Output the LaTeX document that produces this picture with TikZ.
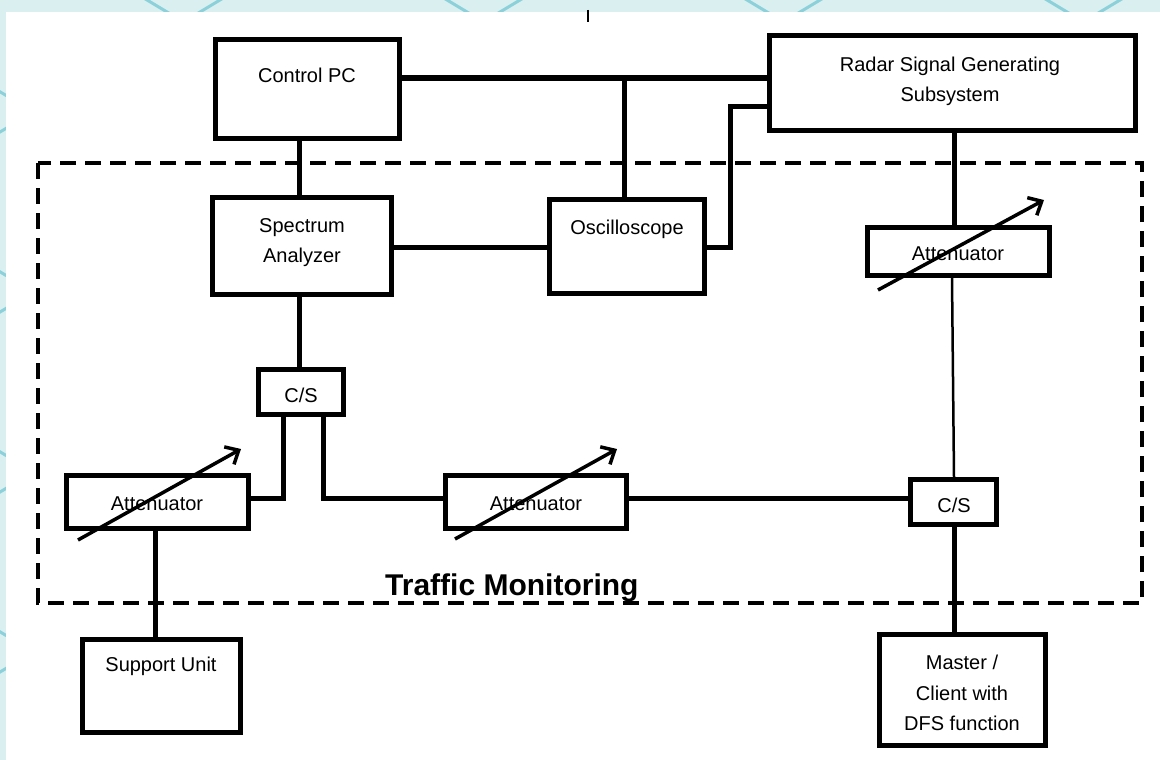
\documentclass[tikz,border=0pt]{standalone}
\usepackage{fontspec}
\setmainfont{Liberation Sans}
\usetikzlibrary{arrows.meta}
\definecolor{bgcyan}{HTML}{DAF0F0}
\definecolor{latt}{HTML}{8CD0DA}
\begin{document}
\begin{tikzpicture}[x=1pt,y=-1pt,
  box/.style={draw=black,line width=5pt,inner sep=0pt,fill=white},
  lbl/.style={font=\fontsize{20}{24}\selectfont,inner sep=0pt,anchor=base},
  conn/.style={draw=black,line width=5pt},
  thinconn/.style={draw=black,line width=2.5pt},
  varrow/.style={draw=black,line width=3.5pt,-{Straight Barb[length=11pt,width=20pt]}},
  frame/.style={draw=black,line width=3.5pt,dash pattern=on 16pt off 9pt}]
\useasboundingbox (0,0) rectangle (1160,760);
% background
\fill[bgcyan] (0,0) rectangle (1160,760);
\begin{scope}
  \clip (0,0) rectangle (1160,760);
  \foreach \a in {-1053,-753,-453,-153,147,447,747,1047,1347}{
    \draw[latt,line width=3pt] (\a-1300,-780) -- (\a+1300,780);}
  \foreach \b in {220,520,820,1120,1420,1720,2020}{
    \draw[latt,line width=3pt] (\b-1300,780) -- (\b+1300,-780);}
\end{scope}
\fill[white] (6,12) rectangle (1160,760);
\coordinate (tickA) at (588,10);
\coordinate (tickB) at (588,22);
\draw[black,line width=1.5pt] (tickA) -- (tickB);
% dashed frame
\draw[frame] (38,163) rectangle (1142,603);
% boxes
\node[box,minimum width=184pt,minimum height=99pt] (cpc) at (307.5,89) {};
\node[box,minimum width=366pt,minimum height=95pt] (radar) at (952.5,83) {};
\node[box,minimum width=179pt,minimum height=97pt] (sa) at (302,246) {};
\node[box,minimum width=155pt,minimum height=94pt] (osc) at (627,246.5) {};
\node[box,minimum width=182pt,minimum height=48pt] (attr) at (958.5,251.5) {};
\node[box,minimum width=85pt,minimum height=45pt] (csa) at (301,392) {};
\node[box,minimum width=182pt,minimum height=53pt] (attl) at (157.5,502) {};
\node[box,minimum width=181pt,minimum height=53pt] (attm) at (536,502) {};
\node[box,minimum width=86pt,minimum height=45pt] (csb) at (953.5,502) {};
\node[box,minimum width=158pt,minimum height=93pt] (sup) at (161.5,686) {};
\node[box,minimum width=166pt,minimum height=111pt] (mas) at (962.5,690) {};
% connectors
\draw[conn,line width=5.5pt] (cpc.east |- 0,78) -- (radar.west |- 0,78);
\coordinate (jtop) at (624,78);
\draw[conn] (jtop) -- (osc.north -| jtop);
\draw[conn] (radar.west |- 0,106) -| (730,247) -- (osc.east |- 0,247);
\draw[conn] (cpc.south -| 299,0) -- (sa.north -| 299,0);
\draw[conn] (sa.east |- 0,247) -- (osc.west |- 0,247);
\draw[conn] (sa.south -| 299,0) -- (csa.north -| 299,0);
\draw[conn] (radar.south -| 954,0) -- (attr.north -| 954,0);
\draw[thinconn] (attr.south -| 952,0) -- (csb.north -| 954,0);
\draw[conn] (csa.south -| 283,0) -- (283,498) -- (attl.east |- 0,498);
\draw[conn] (csa.south -| 323,0) -- (323,498) -- (attm.west |- 0,498);
\draw[conn] (attm.east |- 0,498) -- (csb.west |- 0,498);
\draw[conn] (attl.south -| 155,0) -- (sup.north -| 155,0);
\draw[conn] (csb.south -| 954,0) -- (mas.north -| 954,0);
% variable attenuator arrows
\draw[varrow] (878,290) -- (1044,200);
\draw[varrow] (78,540) -- (241,449);
\draw[varrow] (455,539) -- (617,449);
% labels
\node[lbl] (tcpc) at (307,82) {Control PC};
\node[lbl] (tr1) at (950,72) {Radar Signal Generating};
\node[lbl] (tr2) at (950,101) {Subsystem};
\node[lbl] (tsa1) at (302,232) {Spectrum};
\node[lbl] (tsa2) at (302,262) {Analyzer};
\node[lbl] (tosc) at (627,234) {Oscilloscope};
\node[lbl] (tattr) at (958,260) {Attenuator};
\node[lbl] (tattl) at (157,510) {Attenuator};
\node[lbl] (tattm) at (536,510) {Attenuator};
\node[lbl] (tcsa) at (301,402) {C/S};
\node[lbl] (tcsb) at (954,512) {C/S};
\node[lbl] (tsup) at (161,671) {Support Unit};
\node[lbl] (tm1) at (962,669) {Master /};
\node[lbl] (tm2) at (962,700) {Client with};
\node[lbl] (tm3) at (962,730) {DFS function};
\node[font=\fontsize{30}{36}\selectfont\bfseries,inner sep=0pt,anchor=base west] (ttm) at (385,595) {Traffic Monitoring};
\end{tikzpicture}
\end{document}
